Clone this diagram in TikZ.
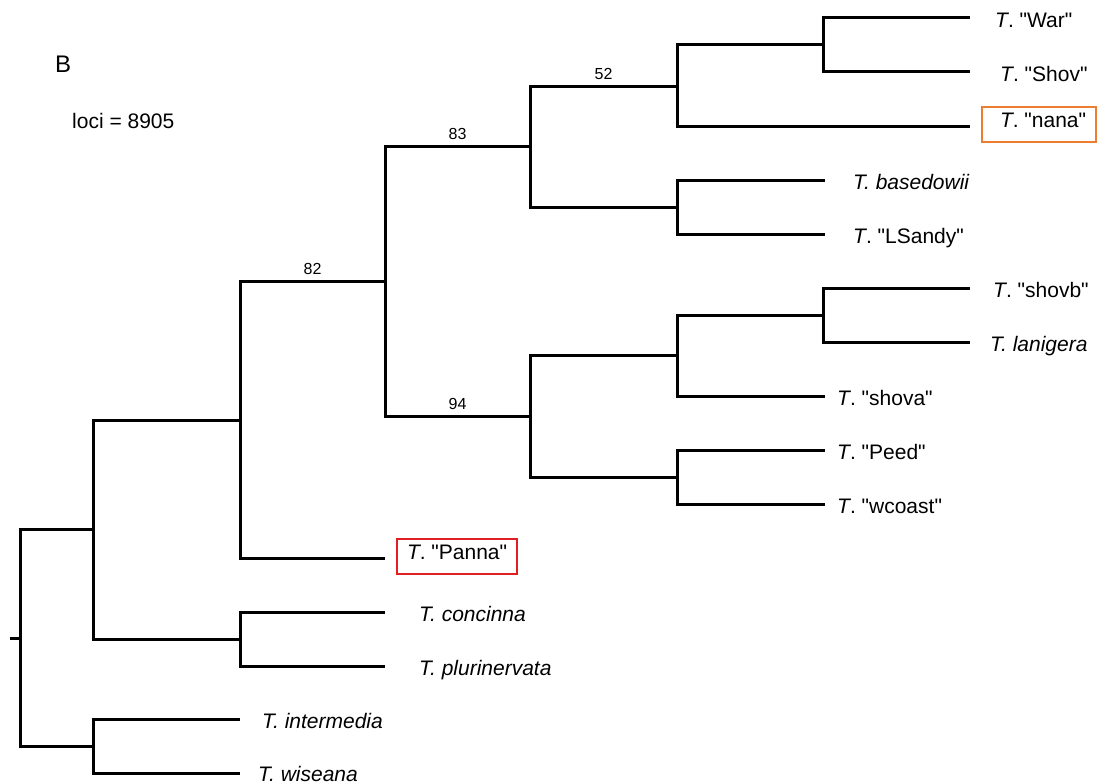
\documentclass[tikz,border=0pt]{standalone}
\usepackage{fontspec}
\setmainfont{Liberation Sans}[Ligatures=TeXOff]
\usetikzlibrary{positioning}
\definecolor{hlorange}{RGB}{237,125,49}
\definecolor{hlred}{RGB}{225,30,36}
\tikzset{
  edge/.style={line width=3pt},
  tip/.style={inner sep=0pt, text height=15pt, text depth=0pt, yshift=-2pt, font=\fontsize{21}{25}\selectfont},
  boxed/.style={draw, line width=2pt, text height=15pt, text depth=9pt, inner ysep=5.5pt, inner xsep=10pt, yshift=2pt, font=\fontsize{21}{25}\selectfont},
  boot/.style={above, inner sep=5pt, font=\fontsize{16}{19}\selectfont},
}
\begin{document}
\begin{tikzpicture}[x=1pt, y=-1pt]
  \useasboundingbox (0,0) rectangle (1108,784);

  % --- panel letter and count ---
  \node[anchor=base west, inner sep=0pt, font=\fontsize{24}{28}\selectfont] (panel) at (55,73) {B};
  \node[anchor=base west, inner sep=0pt, font=\fontsize{21}{25}\selectfont] (loci) at (72,128) {loci = 8905};

  % --- internal nodes ---
  \coordinate (base) at (10,638);
  \coordinate (r) at (20,638);
  \coordinate (a) at (93,529);
  \coordinate (d) at (93,746);
  \coordinate (b) at (240,420);
  \coordinate (c) at (240,639);
  \coordinate (e) at (385,281);
  \coordinate (f) at (530,146);
  \coordinate (g) at (530,416);
  \coordinate (h) at (677,86);
  \coordinate (i) at (677,207);
  \coordinate (j) at (823,45);
  \coordinate (k) at (677,355);
  \coordinate (l) at (677,477);
  \coordinate (m) at (823,315);

  % --- tips ---
  \coordinate (War) at (970,18);
  \coordinate (Shov) at (970,72);
  \coordinate (nana) at (970,126);
  \coordinate (based) at (825,180);
  \coordinate (LSandy) at (825,234);
  \coordinate (shovb) at (970,288);
  \coordinate (lanig) at (970,342);
  \coordinate (shova) at (825,396);
  \coordinate (Peed) at (825,450);
  \coordinate (wcoast) at (825,504);
  \coordinate (Panna) at (385,558);
  \coordinate (concin) at (385,612);
  \coordinate (plurin) at (385,666);
  \coordinate (interm) at (240,719);
  \coordinate (wisean) at (240,773);

  % --- labels ---
  \node[tip, right=25pt of War] (lWar) {\textit{T}. "War"};
  \node[tip, right=30pt of Shov] (lShov) {\textit{T}. "Shov"};
  \node[boxed, draw=hlorange, right=11pt of nana] (lnana) {\hspace*{8pt}\textit{T}. "nana"};
  \node[tip, right=28pt of based] (lbased) {\textit{T. basedowii}};
  \node[tip, right=28pt of LSandy] (lLSandy) {\textit{T}. "LSandy"};
  \node[tip, right=23pt of shovb] (lshovb) {\textit{T}. "shovb"};
  \node[tip, right=20pt of lanig] (llanig) {\textit{T. lanigera}};
  \node[tip, right=12pt of shova] (lshova) {\textit{T}. "shova"};
  \node[tip, right=12pt of Peed] (lPeed) {\textit{T}. "Peed"};
  \node[tip, right=12pt of wcoast] (lwcoast) {\textit{T}. "wcoast"};
  \node[boxed, draw=hlred, right=11pt of Panna] (lPanna) {\textit{T}. "Panna"};
  \node[tip, right=34pt of concin] (lconcin) {\textit{T. concinna}};
  \node[tip, right=34pt of plurin] (lplurin) {\textit{T. plurinervata}};
  \node[tip, right=22pt of interm] (linterm) {\textit{T. intermedia}};
  \node[tip, yshift=1.5pt, right=18pt of wisean] (lwisean) {\textit{T. wiseana}};

  % --- branches ---
  \draw[edge] (base) -- (r);
  \draw[edge] (r) |- (a);
  \draw[edge] (r) |- (d);
  \draw[edge] (d) |- (interm);
  \draw[edge] (d) |- (wisean);
  \draw[edge] (a) |- (b);
  \draw[edge] (a) |- (c);
  \draw[edge] (c) |- (concin);
  \draw[edge] (c) |- (plurin);
  \draw[edge] (b) |- (e) node[boot, pos=0.75] {82};
  \draw[edge] (b) |- (Panna);
  \draw[edge] (e) |- (f) node[boot, pos=0.75] {83};
  \draw[edge] (e) |- (g) node[boot, pos=0.75] {94};
  \draw[edge] (f) |- (h) node[boot, pos=0.75] {52};
  \draw[edge] (f) |- (i);
  \draw[edge] (h) |- (j);
  \draw[edge] (h) |- (nana);
  \draw[edge] (j) |- (War);
  \draw[edge] (j) |- (Shov);
  \draw[edge] (i) |- (based);
  \draw[edge] (i) |- (LSandy);
  \draw[edge] (g) |- (k);
  \draw[edge] (g) |- (l);
  \draw[edge] (k) |- (m);
  \draw[edge] (k) |- (shova);
  \draw[edge] (m) |- (shovb);
  \draw[edge] (m) |- (lanig);
  \draw[edge] (l) |- (Peed);
  \draw[edge] (l) |- (wcoast);
\end{tikzpicture}
\end{document}
